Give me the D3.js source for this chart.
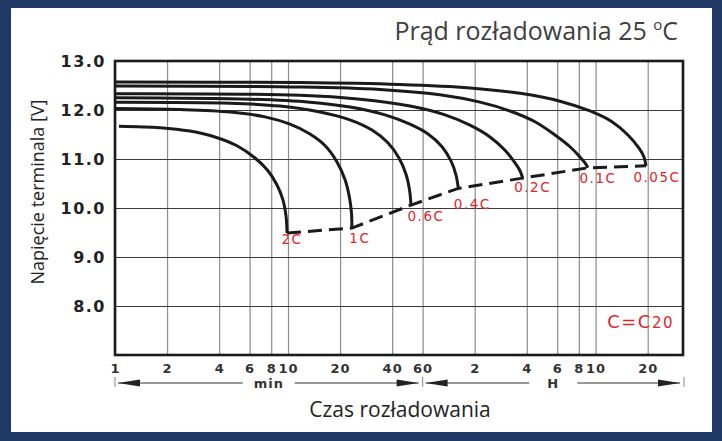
<!DOCTYPE html>
<html>
<head>
<meta charset="utf-8">
<script src="https://cdn.jsdelivr.net/npm/d3@7"></script>
<style>
  body { margin: 0; background: #fff; }
  svg { display: block; }
</style>
</head>
<body>
<div id="chart-area"><svg></svg></div>
<script>
// Discharge curves, time in minutes, voltage in V
const yTicks = [8, 9, 10, 11, 12, 13];
const minTicks = [1, 2, 4, 6, 8, 10, 20, 40, 60];
const hourTicks = [2, 4, 6, 8, 10, 20];
const rateLabels = ["2C", "1C", "0.6C", "0.4C", "0.2C", "0.1C", "0.05C"];

const curve2C = [[1.054, 11.67], [1.82, 11.64], [2.71, 11.57], [3.78, 11.45], [5.07, 11.27], [6.45, 11.02], [7.66, 10.76], [8.64, 10.47], [9.36, 10.16], [9.74, 9.84], [9.87, 9.49]];
const curve1C = [[1, 12.03], [2.38, 12.01], [4.62, 11.96], [7.36, 11.86], [10.27, 11.71], [13.4, 11.51], [16.4, 11.27], [19.2, 10.94], [21.4, 10.57], [22.7, 10.20], [23.3, 9.88], [23.4, 9.59]];
const curve06C = [[1, 12.16], [4.62, 12.14], [8.99, 12.08], [15.3, 11.96], [22.8, 11.80], [30.6, 11.59], [37.8, 11.33], [43.8, 11.02], [48.1, 10.69], [50.4, 10.37], [51.4, 10.06]];
const curve04C = [[1, 12.25], [6.03, 12.22], [13.4, 12.16], [22.8, 12.06], [36.4, 11.90], [50.7, 11.71], [64.5, 11.51], [77.7, 11.25], [87.5, 10.96], [93.6, 10.67], [96.5, 10.40]];
const curve02C = [[1, 12.33], [11.7, 12.30], [26.1, 12.22], [50.7, 12.08], [80.8, 11.90], [112.7, 11.69], [147.1, 11.45], [179.6, 11.18], [205.2, 10.92], [219.3, 10.76], [227.3, 10.61]];
const curve01C = [[1, 12.49], [11.7, 12.47], [34.0, 12.42], [75.6, 12.31], [128.8, 12.16], [192, 11.98], [267.7, 11.76], [349.4, 11.49], [426.7, 11.25], [487.4, 11.04], [521, 10.92], [542, 10.82]];
const curve005C = [[1, 12.57], [11.7, 12.56], [44.4, 12.52], [112.7, 12.45], [219.5, 12.34], [373.5, 12.18], [556.7, 11.98], [746, 11.76], [923, 11.49], [1069, 11.22], [1142, 11.04], [1173, 10.86]];

const curves = [curve2C, curve1C, curve06C, curve04C, curve02C, curve01C, curve005C];

const width = 722, height = 441;
const svg = d3.select('#chart-area').select('svg')
    .attr('width', width).attr('height', height);

// navy frame
svg.append('rect').attr('width', width).attr('height', height).attr('fill', '#1f3864');
svg.append('rect').attr('x', 11).attr('y', 8).attr('width', 701).attr('height', 424).attr('fill', '#fff');

const plot = { left: 115, top: 61, right: 683, bottom: 355 };
const x = d3.scaleLog().domain([1, 1920]).range([plot.left, plot.right]);
const y = d3.scaleLinear().domain([7, 13]).range([plot.bottom, plot.top]);

const tickFont = "'DejaVu Sans', sans-serif";
const textFont = "'Open Sans', sans-serif";

// vertical grid + x tick labels
const allTicks = minTicks.concat(hourTicks.map(h => h * 60));
const xAxis = svg.append('g')
    .attr('transform', `translate(0,${plot.bottom})`)
    .call(d3.axisBottom(x)
        .tickValues(allTicks)
        .tickSize(-(plot.bottom - plot.top))
        .tickPadding(9)
        .tickFormat(d => d > 60 ? d / 60 : d));
xAxis.select('.domain').remove();
xAxis.selectAll('line').attr('stroke', '#8c8c8c').attr('stroke-width', 1.2);
xAxis.selectAll('text')
    .attr('fill', '#333')
    .style('font-family', tickFont)
    .style('font-weight', 'bold')
    .style('font-size', '13px')
    .style('letter-spacing', '1px');

// horizontal grid
const yGrid = svg.append('g')
    .attr('transform', `translate(${plot.left},0)`)
    .call(d3.axisLeft(y).tickValues(yTicks.slice(0, -1)).tickSize(-(plot.right - plot.left)).tickFormat(''));
yGrid.select('.domain').remove();
yGrid.selectAll('line').attr('stroke', '#3a3a3a').attr('stroke-width', 1);

// y tick labels
const yAxis = svg.append('g')
    .attr('transform', `translate(${plot.left},0)`)
    .call(d3.axisLeft(y).tickValues(yTicks).tickSize(0).tickPadding(9).tickFormat(d3.format('.1f')));
yAxis.select('.domain').remove();
yAxis.selectAll('text')
    .attr('fill', '#222')
    .style('font-family', tickFont)
    .style('font-weight', 'bold')
    .style('font-size', '16px')
    .style('letter-spacing', '1.5px');

// plot frame
svg.append('rect')
    .attr('x', plot.left).attr('y', plot.top)
    .attr('width', plot.right - plot.left).attr('height', plot.bottom - plot.top)
    .attr('fill', 'none').attr('stroke', '#1a1a1a').attr('stroke-width', 2.6);

// curves
const line = d3.line().x(d => x(d[0])).y(d => y(d[1])).curve(d3.curveCatmullRom.alpha(0.5));
svg.append('g').selectAll('path')
    .data(curves)
    .join('path')
    .attr('d', line)
    .attr('fill', 'none')
    .attr('stroke', '#1a1a1a')
    .attr('stroke-width', 3);

// end-of-discharge dashed line
const ends = curves.map(c => c[c.length - 1]);
svg.append('path')
    .attr('d', d3.line().x(d => x(d[0])).y(d => y(d[1]))(ends))
    .attr('fill', 'none')
    .attr('stroke', '#1a1a1a')
    .attr('stroke-width', 3)
    .attr('stroke-dasharray', '14,7');

// rate labels
const labelOffset = [[5, 6], [8, 10], [15, 11], [14, 16], [10, 9], [10, 10], [11, 11]];
svg.append('g').selectAll('text')
    .data(rateLabels)
    .join('text')
    .attr('x', (d, i) => x(ends[i][0]) + labelOffset[i][0])
    .attr('y', (d, i) => y(ends[i][1]) + labelOffset[i][1])
    .attr('text-anchor', 'middle')
    .attr('dominant-baseline', 'central')
    .attr('fill', '#e3242b')
    .style('font-family', tickFont)
    .style('font-size', '13.5px')
    .style('letter-spacing', '1.5px')
    .text(d => d);

// C=C20 note
const note = svg.append('text')
    .attr('x', 674).attr('y', 328)
    .attr('text-anchor', 'end')
    .attr('fill', '#e3242b')
    .style('font-family', tickFont)
    .style('letter-spacing', '1.5px');
note.append('tspan').style('font-size', '18px').text('C=C');
note.append('tspan').style('font-size', '15px').text('20');

// min / H arrows under the axis
const arrowY = 383;
const arrows = svg.append('g');
function tickMark(px) {
    arrows.append('line')
        .attr('x1', px).attr('x2', px).attr('y1', arrowY - 6).attr('y2', arrowY + 4)
        .attr('stroke', '#999').attr('stroke-width', 1.2);
}
function arrowSpan(x0, x1, label, gap) {
    const mid = (x0 + x1) / 2;
    arrows.append('line').attr('x1', x0 + 3).attr('x2', mid - gap).attr('y1', arrowY).attr('y2', arrowY)
        .attr('stroke', '#333').attr('stroke-width', 1);
    arrows.append('line').attr('x1', mid + gap).attr('x2', x1 - 4).attr('y1', arrowY).attr('y2', arrowY)
        .attr('stroke', '#333').attr('stroke-width', 1);
    arrows.append('path')
        .attr('d', `M${x0 + 3},${arrowY} L${x0 + 25},${arrowY - 3.5} L${x0 + 25},${arrowY + 3.5} Z`)
        .attr('fill', '#222');
    arrows.append('path')
        .attr('d', `M${x1 - 4},${arrowY} L${x1 - 26},${arrowY - 3.5} L${x1 - 26},${arrowY + 3.5} Z`)
        .attr('fill', '#222');
    arrows.append('text')
        .attr('x', mid).attr('y', arrowY)
        .attr('text-anchor', 'middle').attr('dominant-baseline', 'central')
        .attr('fill', '#333')
        .style('font-family', tickFont).style('font-weight', 'bold').style('font-size', '13px')
        .style('letter-spacing', '1px')
        .text(label);
}
tickMark(x(1));
tickMark(x(60));
tickMark(plot.right + 1);
arrowSpan(x(1), x(60), 'min', 26);
arrowSpan(x(60), plot.right + 1, 'H', 24);

// titles
const title = svg.append('text')
    .attr('x', 678).attr('y', 40)
    .attr('text-anchor', 'end')
    .attr('fill', '#404040')
    .style('font-family', textFont)
    .style('font-size', '25px');
title.append('tspan').text('Prąd rozładowania 25 ');
title.append('tspan').attr('dy', -10).style('font-size', '15px').text('o');
title.append('tspan').attr('dy', 10).text('C');

svg.append('text')
    .attr('x', 400).attr('y', 417)
    .attr('text-anchor', 'middle')
    .attr('fill', '#222')
    .style('font-family', textFont)
    .style('font-size', '21px')
    .text('Czas rozładowania');

svg.append('text')
    .attr('transform', 'translate(44,192) rotate(-90)')
    .attr('text-anchor', 'middle')
    .attr('fill', '#222')
    .style('font-family', textFont)
    .style('font-size', '18px')
    .text('Napięcie terminala [V]');
</script>
</body>
</html>
